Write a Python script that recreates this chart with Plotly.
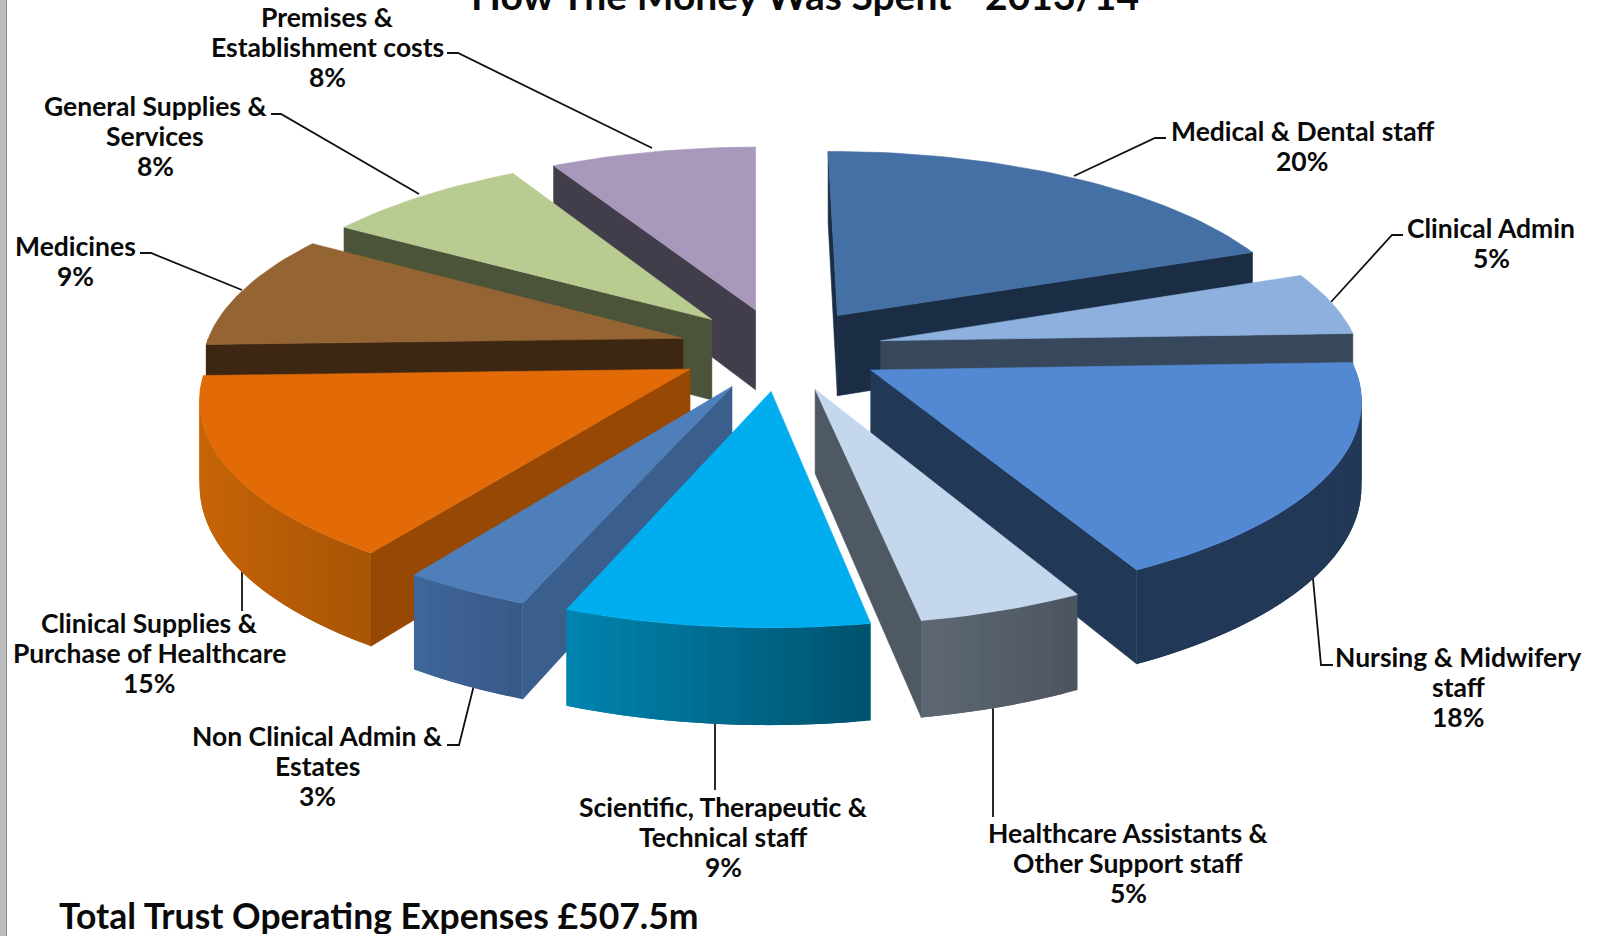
import math
import plotly.graph_objects as go

# ---- data ----
categories = ["Medical & Dental staff", "Clinical Admin", "Nursing & Midwifery staff",
              "Healthcare Assistants & Other Support staff",
              "Scientific, Therapeutic & Technical staff", "Non Clinical Admin & Estates",
              "Clinical Supplies & Purchase of Healthcare", "Medicines",
              "General Supplies & Services", "Premises & Establishment costs"]
# percentages as printed on the labels
printed_percent = [20, 5, 18, 5, 9, 3, 15, 9, 8, 8]
# shares (unrounded estimates)
values = [19.3, 5.2, 17.95, 4.8, 8.75, 3.7, 14.9, 9.4, 8.0, 8.0]
label_lines = [["Medical & Dental staff"], ["Clinical Admin"], ["Nursing & Midwifery", "staff"],
               ["Healthcare Assistants &", "Other Support staff"],
               ["Scientific, Therapeutic &", "Technical staff"], ["Non Clinical Admin &", "Estates"],
               ["Clinical Supplies &", "Purchase of Healthcare"], ["Medicines"],
               ["General Supplies &", "Services"], ["Premises &", "Establishment costs"]]
title_text = "How The Money Was Spent - 2013/14"
footer_text = "Total Trust Operating Expenses £507.5m"

# ---- styles ----
top_colors = ["#4570A5", "#8DB0DE", "#5389D3", "#C4D7ED", "#00AEEF",
              "#4E7FBA", "#E26B07", "#956433", "#B8CB90", "#A899BC"]
side_colors = ["#1A2D45", "#38485C", "#223857", "#4F5963", "#005A78",
               "#3B5F8C", "#964804", "#3E2712", "#4B5439", "#423D4B"]
rim_left = ["#1A2D45", "#38485C", "#223857", "#5F6975", "#0085B1",
            "#3F679B", "#C66407", "#3E2712", "#4B5439", "#423D4B"]
rim_right = ["#1A2D45", "#38485C", "#223857", "#4D5660", "#00536F",
             "#385A89", "#A85506", "#3E2712", "#4B5439", "#423D4B"]
paint_order = [0, 9, 8, 1, 7, 2, 6, 3, 5, 4]

# ---- projection of the exploded tilted pie ----
CX, CY, R, EXPLODE, TILT, PERSP, DEPTH, ROT = 781, 349, 478, 0.214, 0.405, 0.13, 82, -0.4


def project(X, Y, down=0.0):
    s = 1 / (1 + PERSP * Y)
    return CX + R * X * s, CY - R * TILT * Y * s + DEPTH * down * s


def mix(a, b, t):
    ca = [int(a[i:i + 2], 16) for i in (1, 3, 5)]
    cb = [int(b[i:i + 2], 16) for i in (1, 3, 5)]
    return "rgb(%d,%d,%d)" % tuple(round(p + (q - p) * t) for p, q in zip(ca, cb))


fig = go.Figure()


def poly(pts, color, lw=0.6):
    xs = [p[0] for p in pts] + [pts[0][0]]
    ys = [p[1] for p in pts] + [pts[0][1]]
    fig.add_trace(go.Scatter(x=xs, y=ys, mode="lines", fill="toself", fillcolor=color,
                             line=dict(color=color, width=lw), hoverinfo="skip",
                             showlegend=False))


total = sum(values)
edges = [ROT]
for v in values:
    edges.append(edges[-1] + 360.0 * v / total)

for i in paint_order:
    a1, a2 = edges[i], edges[i + 1]
    mid = math.radians((a1 + a2) / 2)
    ox, oy = EXPLODE * math.sin(mid), EXPLODE * math.cos(mid)
    rim_pt = lambda a: (ox + math.sin(math.radians(a)), oy + math.cos(math.radians(a)))
    # radial walls
    for a, vis in ((a1, math.sin(math.radians(a1)) < 0), (a2, math.sin(math.radians(a2)) > 0)):
        if vis:
            X, Y = rim_pt(a)
            poly([project(ox, oy), project(X, Y), project(X, Y, 1), project(ox, oy, 1)], side_colors[i])
    # outer curved wall, split into overlapping strips for the shading
    lo, hi = max(a1, 90.0), min(a2, 270.0)
    if hi > lo:
        n = max(2, int((hi - lo) / 1.5))
        angs = [lo + (hi - lo) * j / n for j in range(n + 1)]
        xl = project(*rim_pt(hi))[0]
        xr = project(*rim_pt(lo))[0]
        for j in range(n):
            p, q = rim_pt(angs[j]), rim_pt(angs[min(j + 2, n)])
            xm = project(*rim_pt(angs[j]))[0]
            t = (xm - xl) / max(xr - xl, 1)
            poly([project(*p), project(*q), project(*q, 1), project(*p, 1)],
                 mix(rim_left[i], rim_right[i], t), lw=0)
    # top face
    n = max(4, int((a2 - a1) / 1.5))
    pts = [project(ox, oy)] + [project(*rim_pt(a1 + (a2 - a1) * j / n)) for j in range(n + 1)]
    poly(pts, top_colors[i])

# ---- labels and leaders (layout, in picture pixels) ----
label_xy = [(1302, 146), (1491, 243), (1458, 687), (1128, 863), (723, 837),
            (317, 766), (149, 653), (75, 261), (155, 136), (327, 47)]
leaders = [[(1166, 138), (1155, 138), (1074, 176)],
           [(1403, 235), (1392, 235), (1331, 302)],
           [(1333, 665), (1321, 665), (1312, 568)],
           [(993, 817), (993, 705)],
           [(715, 790), (715, 722)],
           [(447, 745), (459, 745), (474, 685)],
           [(242, 611), (242, 562)],
           [(140, 253), (151, 253), (242, 290)],
           [(271, 114), (281, 114), (419, 194)],
           [(447, 53), (458, 53), (652, 148)]]
LINE_STEP = 30

LABEL_FONT = dict(family="Lato", size=26.5, color="#0A0A0A", weight="bold")
annotations = []
for i, lines in enumerate(label_lines):
    rows = lines + ["%d%%" % printed_percent[i]]
    for j, row in enumerate(rows):
        annotations.append(dict(x=label_xy[i][0], y=label_xy[i][1] + (j - (len(rows) - 1) / 2) * LINE_STEP,
                                xref="x", yref="y", showarrow=False, text=row,
                                xanchor="center", yanchor="middle", font=LABEL_FONT))
annotations.append(dict(x=805 / 1602, y=1 + 5 / 936, xref="paper", yref="paper", showarrow=False,
                        text=title_text, xanchor="center", yanchor="middle",
                        font=dict(family="Lato", size=39, color="#0A0A0A", weight="bold")))
annotations.append(dict(x=57, y=915, xref="x", yref="y", showarrow=False, text=footer_text,
                        xanchor="left", yanchor="middle", height=38,
                        font=dict(family="Lato", size=35.5, color="#0A0A0A", weight="bold")))

shapes = []
for path in leaders:
    d = "M " + " L ".join("%g %g" % p for p in path)
    shapes.append(dict(type="path", path=d, xref="x", yref="y", layer="below",
                       line=dict(color="#111111", width=1.8)))
shapes.append(dict(type="rect", x0=0, x1=6, y0=0, y1=936, xref="x", yref="y", layer="above",
                   fillcolor="#BDBDBD", line=dict(width=0)))
shapes.append(dict(type="line", x0=6.5, x1=6.5, y0=0, y1=936, xref="x", yref="y", layer="above",
                   line=dict(color="#8A8A8A", width=1)))

fig.update_layout(width=1602, height=936, margin=dict(l=0, r=0, t=0, b=0),
                  paper_bgcolor="white", plot_bgcolor="white", showlegend=False,
                  annotations=annotations, shapes=shapes,
                  xaxis=dict(range=[0, 1602], visible=False, fixedrange=True),
                  yaxis=dict(range=[936, 0], visible=False, fixedrange=True))
fig.write_html("out.html", config=dict(displayModeBar=False),
               post_script="document.body.style.margin='0';document.body.style.overflow='hidden';")
